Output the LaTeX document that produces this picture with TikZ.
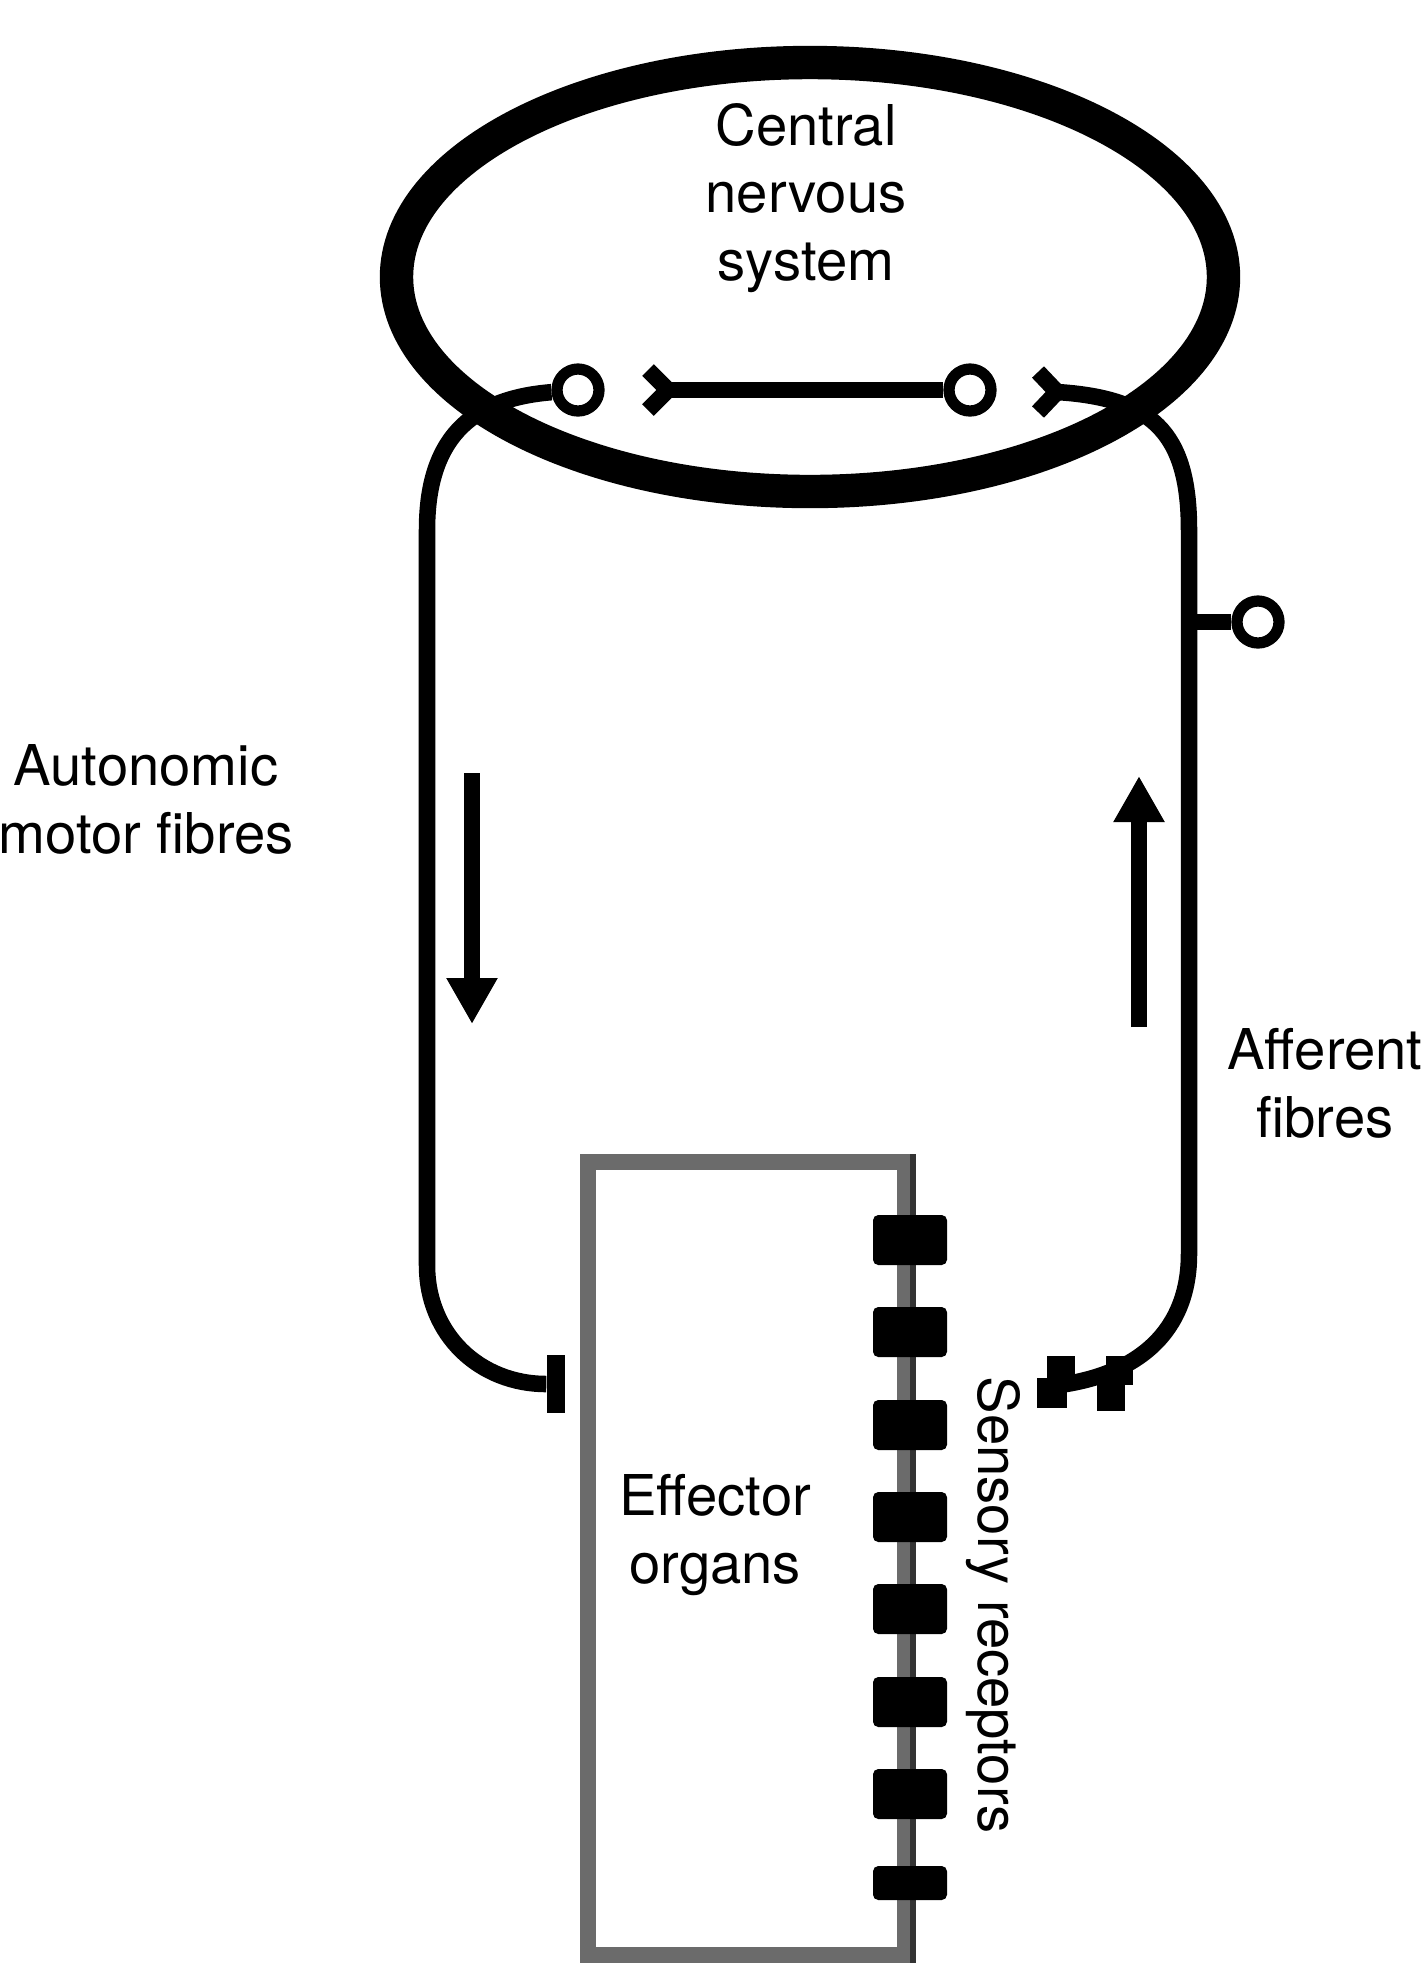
\documentclass[tikz,border=0pt]{standalone}
\usepackage{fontspec}
\setmainfont{TeX Gyre Heros}
\usetikzlibrary{arrows.meta,shapes.geometric}

\begin{document}
\begin{tikzpicture}[x=0.1mm, y=-0.1mm,
    font=\fontsize{16}{19.3}\selectfont,
    >={Triangle[length=4.6mm,width=4.8mm]},
    fibre/.style={line width=4.7pt, draw=black},
    cnsring/.style={ellipse, draw=black, line width=9.5pt, minimum width=82.7mm,
      minimum height=42.9mm, inner sep=0pt},
    knob/.style={circle, draw=black, line width=3.2pt, minimum size=4.2mm, inner sep=0pt},
    endplate/.style={rectangle, fill=black, minimum width=1.8mm, minimum height=5.8mm, inner sep=0pt},
    organbox/.style={rectangle, draw=black!58, line width=4.4pt, minimum width=31.7mm,
      minimum height=79.3mm, inner sep=0pt},
    sensor/.style={rectangle, rounded corners=1.5pt, fill=black, minimum width=7.4mm,
      minimum height=5mm, inner sep=0pt},
    flowarrow/.style={->, line width=4.6pt},
    lab/.style={align=center, inner sep=0pt}
  ]
  \useasboundingbox (0,0) rectangle (1422,1966);

  \node[cnsring] (cns) at (810,277) {};
  \node[lab] (cnslab) at (806,198) {Central\\nervous\\system};

  \node[knob] (c1) at (578,390) {};
  \node[knob] (c2) at (970,390) {};
  \node[knob] (c3) at (1258,622) {};
  \coordinate (fork1) at (668,390);
  \coordinate (fork2) at (1057,392);
  \coordinate (tap) at (1189,622);

  \draw[fibre] (648,370) -- (fork1) -- (648,410);
  \draw[fibre] (fork1) -- (c2);
  \draw[fibre] (1038,372) -- (fork2) -- (1038,412);

  \node[endplate] (motorend) at (556,1384) {};
  \draw[fibre] (c1) .. controls (480,398) and (427,430) .. (427,530)
    -- (427,1265) .. controls (427,1335) and (480,1384) .. (motorend);

  \coordinate (affend) at (1052,1386);
  \draw[fibre] (fork2) .. controls (1150,398) and (1189,430) .. (1189,530)
    -- (1189,1254) .. controls (1189,1330) and (1140,1376) .. (affend);
  \draw[fibre] (tap) -- (c3);
  \fill (1047,1356) rectangle (1075,1382);
  \fill (1037,1378) rectangle (1067,1408);
  \fill (1106,1356) rectangle (1133,1385);
  \fill (1097,1380) rectangle (1125,1411);

  \coordinate (mtop) at (472,773);
  \coordinate (mtip) at (472,1024);
  \coordinate (atail) at (1139,1027);
  \coordinate (atip) at (1139,776);
  \draw[flowarrow] (mtop) -- (mtip);
  \draw[flowarrow] (atail) -- (atip);

  \node[organbox] (organ) at (746.5,1558.5) {};
  \draw[black!80, line width=1.6pt] (organ.north east) -- (organ.south east);
  \foreach \sy [count=\k] in {1240,1332,1425,1517,1609,1702,1794}
    \node[sensor] (rec\k) at (910,\sy) {};
  \node[sensor, minimum height=3.4mm] (rec8) at (910,1883) {};

  \node[lab] (motorlab) at (146,799) {Autonomic\\motor fibres};
  \node[lab] (afflab) at (1325,1083) {Afferent\\fibres};
  \node[lab] (efflab) at (715,1535) {Effector\\organs};
  \node[lab, rotate=-90] (senslab) at (993,1605) {Sensory receptors};
\end{tikzpicture}
\end{document}
